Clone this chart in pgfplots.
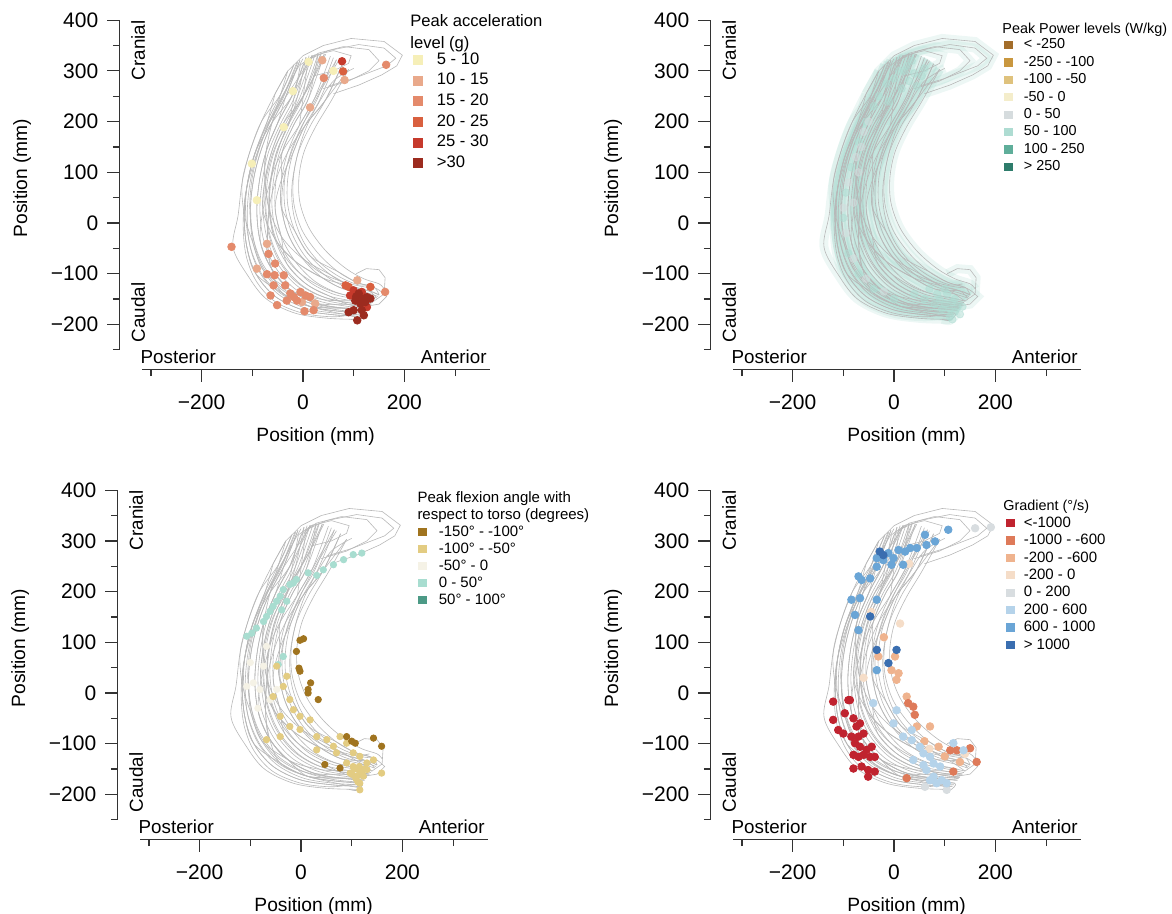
\documentclass[border=0pt]{standalone}
\usepackage{pgfplots}
\pgfplotsset{compat=1.18}
\usepackage{fontspec}
\setmainfont{Liberation Sans}

\definecolor{trajgray}{HTML}{B8B8B8}
\definecolor{axisgray}{HTML}{333333}
% panel 1
\definecolor{a5}{HTML}{F6EFB8}
\definecolor{a10}{HTML}{E9A98B}
\definecolor{a15}{HTML}{E48A6B}
\definecolor{a20}{HTML}{D9603F}
\definecolor{a25}{HTML}{C63A2C}
\definecolor{a30}{HTML}{9C2B1F}
% panel 2
\definecolor{p1}{HTML}{A36D2A}
\definecolor{p2}{HTML}{C9973F}
\definecolor{p3}{HTML}{DFC27D}
\definecolor{p4}{HTML}{F4EDCB}
\definecolor{p5}{HTML}{D6DCDE}
\definecolor{p6}{HTML}{AEDCD2}
\definecolor{p7}{HTML}{5FAE9A}
\definecolor{p8}{HTML}{2E7C6B}
% panel 3
\definecolor{f1}{HTML}{A0741F}
\definecolor{f2}{HTML}{E3CC82}
\definecolor{f3}{HTML}{F5F2E6}
\definecolor{f4}{HTML}{A8DDD0}
\definecolor{f5}{HTML}{4C9A86}
% panel 4
\definecolor{g1}{HTML}{C0232F}
\definecolor{g2}{HTML}{DE7A59}
\definecolor{g3}{HTML}{EFB38E}
\definecolor{g4}{HTML}{F5DDC8}
\definecolor{g5}{HTML}{D8DDE0}
\definecolor{g6}{HTML}{B5D3EA}
\definecolor{g7}{HTML}{6AA5D6}
\definecolor{g8}{HTML}{3A6EB0}

\newcommand{\labfont}{\fontsize{9.6}{11}\selectfont}
\newcommand{\dirfont}{\fontsize{9.4}{11}\selectfont}

\pgfplotsset{
  traj/.style={no markers, color=trajgray, line width=0.3pt, smooth, tension=0.55, forget plot},
  cyanwash/.style={no markers, color=p6, line width=4.5pt, smooth, tension=0.55, draw opacity=0.22, forget plot},
  dot/.style={only marks, mark=*, mark size=1.9pt, forget plot},
  sdot/.style={only marks, mark=*, mark size=1.6pt, forget plot},
  panel/.style={
    x=0.2535pt, y=0.2535pt,
    xmin=-317, xmax=368, ymin=-250, ymax=400,
    enlargelimits=false,
    axis lines=left,
    axis line style={-, draw=axisgray, line width=0.6pt},
    axis x line shift=10pt, axis y line shift=11.5pt,
    tick align=outside,
    major tick length=6pt, minor tick length=3.2pt,
    tick style={draw=axisgray, line width=0.6pt},
    xtick={-200,0,200}, xticklabels={−200,0,200},
    minor xtick={-300,-100,100,300},
    ytick={-200,-100,0,100,200,300,400},
    yticklabels={−200,−100,0,100,200,300,400},
    minor ytick={-250,-150,-50,50,150,250,350},
    ticklabel style={font=\fontsize{10.5}{12}\selectfont, text=black},
    xticklabel style={yshift=-3pt},
    yticklabel style={xshift=-1pt},
    clip=false,
    anchor=origin,
    legend cell align=left,
  },
}

\newcommand{\curves}[1]{%
\addplot[#1] coordinates {(-30,300) (-55,255) (-82,200) (-105,140) (-120,80) (-128,15) (-138,-48) (-108,-105) (-72,-150) (-15,-178) (50,-188) (110,-190)};
\addplot[#1] coordinates {(-18,312) (-44,254) (-71,199) (-94,140) (-109,81) (-116,18) (-111,-46) (-93,-100) (-56,-144) (-2,-171) (60,-181) (115,-184)};
\addplot[#1] coordinates {(-12,317) (-38,253) (-66,198) (-89,140) (-104,82) (-110,19) (-105,-44) (-85,-98) (-48,-141) (5,-168) (65,-178) (118,-181)};
\addplot[#1] coordinates {(-6,321) (-33,252) (-61,198) (-84,140) (-98,82) (-104,20) (-98,-42) (-77,-95) (-41,-138) (12,-164) (70,-174) (120,-178) (110,-192) (95,-190)};
\addplot[#1] coordinates {(6,327) (-22,250) (-50,197) (-73,140) (-86,83) (-91,22) (-84,-38) (-62,-90) (-25,-132) (25,-158) (80,-168) (125,-172)};
\addplot[#1] coordinates {(12,330) (-16,250) (-44,196) (-68,140) (-80,84) (-85,24) (-77,-36) (-54,-88) (-17,-129) (32,-154) (85,-164) (128,-169)};
\addplot[#1] coordinates {(18,331) (-11,249) (-39,196) (-62,140) (-75,84) (-79,25) (-70,-34) (-47,-85) (-9,-126) (39,-151) (90,-161) (130,-166)};
\addplot[#1] coordinates {(24,333) (-6,248) (-34,196) (-57,140) (-70,84) (-73,26) (-63,-32) (-40,-82) (-2,-123) (46,-148) (95,-158) (132,-163)};
\addplot[#1] coordinates {(30,334) (0,248) (-28,195) (-52,140) (-64,85) (-67,28) (-56,-30) (-32,-80) (6,-120) (52,-144) (100,-154) (135,-160)};
\addplot[#1] coordinates {(36,334) (6,247) (-23,194) (-46,140) (-58,86) (-61,29) (-50,-28) (-24,-78) (14,-117) (59,-140) (105,-150) (138,-157)};
\addplot[#1] coordinates {(42,333) (11,246) (-18,194) (-41,140) (-53,86) (-55,30) (-43,-26) (-16,-75) (22,-114) (66,-137) (110,-147) (140,-154)};
\addplot[#1, sharp plot] coordinates {(140,-154) (160,-140) (162,-108) (150,-92) (125,-90) (105,-100)};
\addplot[#1] coordinates {(54,329) (22,244) (-7,193) (-30,140) (-42,87) (-43,32) (-29,-22) (-1,-70) (38,-108) (80,-130) (120,-140) (145,-148)};
\addplot[#1] coordinates {(60,326) (28,244) (-2,192) (-24,140) (-36,88) (-36,34) (-22,-20) (6,-68) (46,-105) (86,-127) (125,-137) (148,-145)};
\addplot[#1] coordinates {(66,322) (33,243) (4,192) (-19,140) (-30,88) (-30,35) (-15,-18) (14,-65) (54,-102) (93,-124) (130,-134) (150,-142)};
\addplot[#1] coordinates {(78,314) (44,242) (14,191) (-9,140) (-19,89) (-18,38) (-2,-14) (30,-60) (69,-96) (106,-117) (140,-127) (155,-136)};
\addplot[#1, sharp plot] coordinates {(155,-136) (165,-145) (150,-160) (120,-165)};
\addplot[#1] coordinates {(90,303) (55,240) (25,190) (2,140) (-8,90) (-6,40) (12,-10) (45,-55) (85,-90) (120,-110) (150,-120) (160,-130)};
% crossing trajectories
\addplot[#1] coordinates {(-6,321) (-33,252) (-50,197) (-73,140) (-75,84) (-67,28) (-56,-30) (-16,-75) (38,-108) (80,-130) (130,-134) (150,-142)};
\addplot[#1] coordinates {(66,322) (22,244) (-7,193) (-41,140) (-64,85) (-67,28) (-70,-34) (-62,-90) (-25,-132) (12,-164) (70,-174) (120,-178)};
\addplot[#1] coordinates {(18,331) (-22,250) (-61,198) (-94,140) (-109,81) (-116,18) (-111,-46) (-93,-100) (-41,-138) (12,-164) (80,-168) (125,-172)};
\addplot[#1] coordinates {(42,333) (0,248) (-39,196) (-62,140) (-75,84) (-79,25) (-56,-30) (-16,-75) (38,-108) (93,-124) (130,-134) (145,-148)};
\addplot[#1] coordinates {(-30,300) (-44,254) (-61,198) (-73,140) (-75,84) (-67,28) (-43,-26) (-1,-70) (54,-102) (93,-124) (120,-140) (140,-154)};
\addplot[#1] coordinates {(90,303) (44,242) (4,192) (-30,140) (-53,86) (-67,28) (-70,-34) (-62,-90) (-41,-138) (12,-164) (80,-168) (130,-166)};
\addplot[#1] coordinates {(6,327) (-11,249) (-28,195) (-52,140) (-64,85) (-79,25) (-84,-38) (-62,-90) (-25,-132) (39,-151) (100,-154) (135,-160)};
\addplot[#1] coordinates {(78,314) (44,242) (4,192) (-19,140) (-42,87) (-55,30) (-43,-26) (-32,-80) (6,-120) (52,-144) (90,-161) (130,-166)};
\addplot[#1] coordinates {(30,334) (11,246) (-18,194) (-41,140) (-42,87) (-43,32) (-15,-18) (14,-65) (69,-96) (106,-117) (140,-127) (150,-142)};
\addplot[#1] coordinates {(-18,312) (-44,254) (-82,200) (-105,140) (-120,80) (-116,18) (-98,-42) (-77,-95) (-25,-132) (25,-158) (90,-161) (135,-160)};
% further hand-read trajectories
\addplot[#1] coordinates {(0,324) (-30,270) (-60,215) (-85,150) (-100,90) (-105,30) (-98,-30) (-80,-80) (-45,-125) (5,-155) (60,-170) (105,-175)};
\addplot[#1] coordinates {(45,333) (15,275) (-15,225) (-40,170) (-58,110) (-66,50) (-60,-10) (-40,-60) (-5,-100) (45,-130) (95,-145) (125,-150)};
\addplot[#1] coordinates {(20,330) (-10,285) (-45,230) (-75,165) (-95,100) (-103,40) (-100,-20) (-85,-75) (-55,-120) (-10,-150) (50,-165) (100,-168)};
\addplot[#1] coordinates {(70,320) (40,270) (10,215) (-15,160) (-35,100) (-42,40) (-32,-15) (-8,-60) (30,-95) (75,-115) (115,-125) (140,-128)};
\addplot[#1] coordinates {(-10,318) (-40,245) (-70,190) (-95,125) (-113,60) (-118,-5) (-112,-65) (-92,-115) (-55,-155) (0,-178) (60,-185) (100,-180)};
\addplot[#1] coordinates {(100,305) (60,280) (30,235) (5,185) (-12,130) (-22,70) (-18,15) (0,-35) (30,-75) (70,-105) (110,-122) (135,-120)};
\addplot[#1] coordinates {(35,334) (5,260) (-25,205) (-55,150) (-72,90) (-75,35) (-68,-20) (-50,-70) (-18,-112) (25,-140) (75,-155) (115,-160)};
\addplot[#1] coordinates {(-20,290) (-45,240) (-75,185) (-100,120) (-112,60) (-112,0) (-100,-60) (-75,-110) (-35,-145) (15,-165) (70,-178) (110,-186)};
% loops at the top (polylines) and their continuations
\addplot[#1, sharp plot] coordinates {(60,255) (110,272) (155,292) (185,310) (196,331) (160,358) (95,364) (40,350) (0,330) (-30,300) (-55,255)};
\addplot[#1] coordinates {(-55,255) (-71,199) (-94,140) (-109,81) (-116,18) (-111,-46) (-93,-100) (-56,-144) (-2,-171) (60,-181) (115,-184)};
\addplot[#1, sharp plot] coordinates {(40,265) (90,280) (130,300) (150,320) (130,342) (80,348) (30,335) (0,312) (-22,250)};
\addplot[#1] coordinates {(-22,250) (-50,197) (-73,140) (-86,83) (-91,22) (-84,-38) (-62,-90) (-25,-132) (25,-158) (80,-168) (125,-172)};
\addplot[#1, sharp plot] coordinates {(20,290) (60,300) (90,315) (95,330) (60,340) (20,330) (-5,312) (-28,195)};
\addplot[#1, sharp plot] coordinates {(50,270) (100,285) (165,310) (183,325) (160,345) (110,352) (50,340) (10,322) (-7,193)};
}

\newcommand{\panellabels}{%
  \node[font=\labfont] at (axis cs:25,-422) {Position (mm)};
  \node[font=\labfont, rotate=90] at (axis cs:-554,89) {Position (mm)};
  \node[font=\dirfont, anchor=base west, inner sep=0pt] at (axis cs:-321,-278) {Posterior};
  \node[font=\dirfont, anchor=base east, inner sep=0pt] at (axis cs:363,-278) {Anterior};
  \node[font=\dirfont, rotate=90, anchor=east, inner sep=0pt] at (axis cs:-325,400) {Cranial};
  \node[font=\dirfont, rotate=90, anchor=west, inner sep=0pt] at (axis cs:-325,-236) {Caudal};
}

\begin{document}
\begin{tikzpicture}
\useasboundingbox (0,0) rectangle (586pt,-457pt);

% ---------------- Panel 1: acceleration ----------------
\begin{axis}[panel, at={(151.5pt,-111.5pt)},
  legend image code/.code={\fill[#1] (0pt,-2.25pt) rectangle (4.5pt,2.25pt);},
  legend style={at={(0.7796,0.9023)}, anchor=north west, draw=none, fill=none,
    inner sep=0pt, outer sep=0pt, font=\fontsize{8.3}{9}\selectfont,
    row sep=2.7pt, column sep=7pt,
    nodes={inner sep=0pt, text height=6pt, text depth=1.6pt}}]
\curves{traj}
\addplot[dot, color=a5] coordinates {(11,318) (-38,189) (-101,117) (-91,45) (60,300) (-20,260)};
\addplot[dot, color=a10] coordinates {(38,321) (14,228) (-71,-41) (-91,-90) (24,-159) (-2,-156) (107,-113) (82,282)};
\addplot[dot, color=a15] coordinates {(41,286) (164,312) (-141,-47) (-68,-61) (-55,-80) (-71,-101) (-56,-103) (-38,-103) (-35,-123) (-58,-123) (-64,-143) (-51,-162) (-32,-153) (-18,-146) (-5,-136) (5,-143) (14,-146) (3,-174) (21,-172) (-25,-139) (-12,-153) (162,-136)};
\addplot[dot, color=a20] coordinates {(79,299) (84,-123) (90,-126) (133,-126)};
\addplot[dot, color=a25] coordinates {(77,319) (100,-133) (116,-136) (93,-143) (126,-166)};
\addplot[dot, color=a30] coordinates {(110,-139) (126,-146) (133,-149) (103,-153) (113,-159) (123,-156) (100,-172) (116,-172) (120,-182) (107,-192) (90,-176) (105,-145) (118,-150)};
\addlegendimage{a5}\addlegendentry{5 - 10}
\addlegendimage{a10}\addlegendentry{10 - 15}
\addlegendimage{a15}\addlegendentry{15 - 20}
\addlegendimage{a20}\addlegendentry{20 - 25}
\addlegendimage{a25}\addlegendentry{25 - 30}
\addlegendimage{a30}\addlegendentry{>30}
\node[anchor=north west, align=left, inner sep=0pt, font=\fontsize{8.3}{11}\selectfont] at (axis cs:211,412) {Peak acceleration\\level (g)};
\panellabels
\end{axis}

% ---------------- Panel 2: power ----------------
\begin{axis}[panel, at={(447pt,-111.5pt)},
  legend image code/.code={\fill[#1] (0pt,-1.8pt) rectangle (3.6pt,1.8pt);},
  legend style={at={(0.7807,0.9448)}, anchor=north west, draw=none, fill=none,
    inner sep=0pt, outer sep=0pt, font=\fontsize{7.2}{8}\selectfont,
    row sep=2.1pt, column sep=5.75pt,
    nodes={inner sep=0pt, text height=5.3pt, text depth=1.3pt}}]
\curves{cyanwash}
\addplot[dot, color=p6, opacity=0.5] coordinates {(10,300) (25,310) (40,295) (55,290) (30,280) (0,285) (-15,275) (15,265) (45,270) (60,305) (-40,230) (-55,200) (-70,160) (-85,110) (-95,60) (-100,10) (-90,-60) (-70,-100) (-40,-130) (0,-150) (90,-150) (100,-160) (110,-170) (120,-175) (105,-140) (115,-155) (125,-165) (95,-170) (80,-160) (130,-180) (110,-185) (60,-150) (40,-140) (70,-130) (-30,250) (-10,240) (20,300) (35,320) (85,-140) (100,-130) (120,-150) (135,-165) (115,-190)};
\addplot[dot, color=p5, opacity=0.5] coordinates {(-60,180) (-75,130) (-90,80) (-100,30) (-95,-20) (-80,-70) (-55,-110) (-20,-135) (-50,200) (-65,150) (-70,100) (-80,40)};
\curves{traj}
\addlegendimage{p1}\addlegendentry{< -250}
\addlegendimage{p2}\addlegendentry{-250 - -100}
\addlegendimage{p3}\addlegendentry{-100 - -50}
\addlegendimage{p4}\addlegendentry{-50 - 0}
\addlegendimage{p5}\addlegendentry{0 - 50}
\addlegendimage{p6}\addlegendentry{50 - 100}
\addlegendimage{p7}\addlegendentry{100 - 250}
\addlegendimage{p8}\addlegendentry{> 250}
\node[anchor=north west, inner sep=0pt, font=\fontsize{7.2}{8}\selectfont] at (axis cs:213,395) {Peak Power levels (W/kg)};
\panellabels
\end{axis}

% ---------------- Panel 3: flexion angle ----------------
\begin{axis}[panel, at={(150.5pt,-346.5pt)},
  legend image code/.code={\fill[#1] (0pt,-1.8pt) rectangle (3.6pt,1.8pt);},
  legend style={at={(0.8009,0.8938)}, anchor=north west, draw=none, fill=none,
    inner sep=0pt, outer sep=0pt, font=\fontsize{7.5}{8.5}\selectfont,
    row sep=1.7pt, column sep=6.2pt,
    nodes={inner sep=0pt, text height=5.5pt, text depth=1.3pt}}]
\curves{traj}
\addplot[sdot, color=f4] coordinates {(120,276) (103,273) (84,263) (64,253) (44,243) (31,232) (14,237) (-9,224) (-22,214) (-35,204) (-41,191) (-48,181) (-55,171) (-61,161) (-68,151) (-74,141) (-88,128) (-97,118) (-107,112) (-35,72) (-45,56) (-15,217) (-28,181) (-38,164)};
\addplot[sdot, color=f3] coordinates {(-94,20) (-107,13) (-81,7) (-48,7) (-61,-13) (-74,53) (-68,92) (-100,60) (-85,-30)};
\addplot[sdot, color=f2] coordinates {(-48,53) (-28,33) (-35,13) (-55,-7) (-22,-13) (-15,-33) (-41,-46) (-2,-46) (18,-53) (-22,-66) (-2,-72) (-68,-92) (-41,-86) (31,-86) (51,-92) (31,-112) (64,-105) (77,-86) (90,-99) (103,-118) (116,-125) (90,-138) (103,-145) (113,-151) (97,-158) (110,-164) (123,-164) (116,-178) (116,-191) (130,-138) (159,-158) (143,-132) (130,-151) (70,-118) (105,-150) (115,-145) (120,-158) (108,-168) (125,-150) (100,-160) (112,-175)};
\addplot[sdot, color=f1] coordinates {(5,107) (-2,104) (-9,82) (-4,49) (-2,43) (19,20) (14,7) (14,0) (34,-13) (100,-95) (107,-99) (90,-86) (143,-89) (159,-105) (47,-141) (77,-148)};
\addlegendimage{f1}\addlegendentry{-150° - -100°}
\addlegendimage{f2}\addlegendentry{-100° - -50°}
\addlegendimage{f3}\addlegendentry{-50° - 0}
\addlegendimage{f4}\addlegendentry{0 - 50°}
\addlegendimage{f5}\addlegendentry{50° - 100°}
\node[anchor=north west, align=left, inner sep=0pt, font=\fontsize{7.5}{8.3}\selectfont] at (axis cs:229,397) {Peak flexion angle with\\respect to torso (degrees)};
\panellabels
\end{axis}

% ---------------- Panel 4: gradient ----------------
\begin{axis}[panel, at={(447pt,-346.5pt)},
  legend image code/.code={\fill[#1] (0pt,-1.8pt) rectangle (3.6pt,1.8pt);},
  legend style={at={(0.7864,0.9211)}, anchor=north west, draw=none, fill=none,
    inner sep=0pt, outer sep=0pt, font=\fontsize{7.5}{8.5}\selectfont,
    row sep=1.9pt, column sep=4.7pt,
    nodes={inner sep=0pt, text height=5.5pt, text depth=1.3pt}}]
\curves{traj}
\addplot[dot, color=g5] coordinates {(160,325) (191,327) (61,-185) (104,-191)};
\addplot[dot, color=g4] coordinates {(12,137) (-45,160) (30,255) (-60,30) (70,-110) (140,-120)};
\addplot[dot, color=g3] coordinates {(2,72) (-31,72) (-5,45) (5,26) (9,39) (45,-66) (25,-7) (71,-66) (88,-106) (130,-136) (100,-125) (60,-95) (-20,110)};
\addplot[dot, color=g2] coordinates {(28,-20) (38,-27) (41,-43) (111,-113) (124,-113) (150,-109) (163,-136) (117,-155) (25,-168)};
\addplot[dot, color=g6] coordinates {(-41,-20) (5,-34) (-1,-60) (18,-86) (35,-93) (51,-106) (58,-119) (71,-126) (78,-139) (91,-145) (64,-152) (78,-165) (94,-172) (104,-178) (84,-178) (117,-99) (137,-113) (58,-142) (38,-132) (71,-172) (35,-73)};
\addplot[dot, color=g7] coordinates {(107,322) (61,312) (81,299) (64,292) (45,286) (32,286) (22,279) (9,282) (-11,276) (-34,266) (-21,262) (-34,249) (-5,253) (18,253) (-1,266) (-70,230) (-64,223) (-47,226) (-84,184) (-67,187) (-34,184) (-77,154) (-70,124) (-34,45)};
\addplot[dot, color=g8] coordinates {(-28,279) (-21,272) (5,85) (-34,85) (-11,59) (-47,151)};
\addplot[dot, color=g1] coordinates {(-120,-17) (-120,-53) (-110,-73) (-100,-80) (-97,-40) (-87,-14) (-80,-50) (-74,-66) (-67,-60) (-84,-86) (-70,-86) (-60,-80) (-77,-99) (-67,-106) (-54,-112) (-80,-122) (-70,-126) (-60,-122) (-47,-126) (-38,-126) (-44,-106) (-80,-149) (-64,-145) (-51,-152) (-38,-155) (-51,-165) (-90,-14)};
\addlegendimage{g1}\addlegendentry{<-1000}
\addlegendimage{g2}\addlegendentry{-1000 - -600}
\addlegendimage{g3}\addlegendentry{-200 - -600}
\addlegendimage{g4}\addlegendentry{-200 - 0}
\addlegendimage{g5}\addlegendentry{0 - 200}
\addlegendimage{g6}\addlegendentry{200 - 600}
\addlegendimage{g7}\addlegendentry{600 - 1000}
\addlegendimage{g8}\addlegendentry{> 1000}
\node[anchor=north west, inner sep=0pt, font=\fontsize{7.2}{8}\selectfont] at (axis cs:215,382) {Gradient (°/s)};
\panellabels
\end{axis}
\end{tikzpicture}
\end{document}
